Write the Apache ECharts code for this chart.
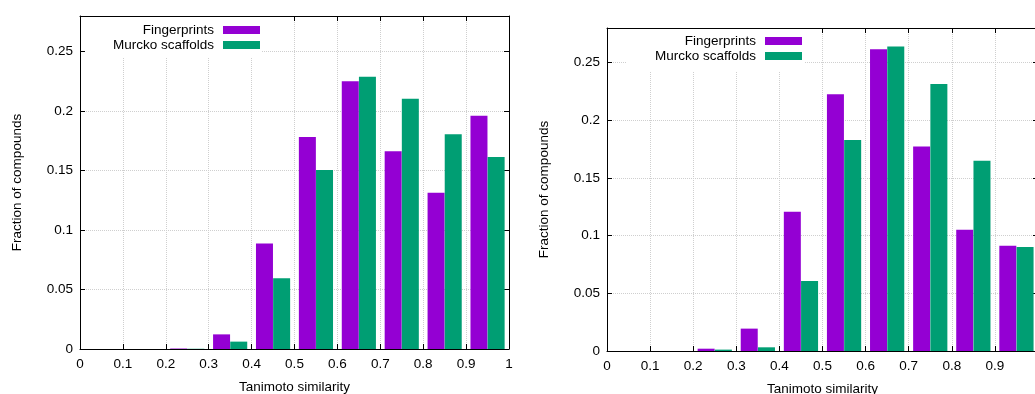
<!DOCTYPE html>
<html>
<head>
<meta charset="utf-8">
<script src="https://cdn.jsdelivr.net/npm/echarts@6/dist/echarts.min.js"></script>
<style>
html,body{margin:0;padding:0;background:#fff;}
#chart{width:1035px;height:394px;}
</style>
</head>
<body>
<div id="chart"></div>
<script>
// Bin starts (Tanimoto similarity bins of width 0.1)
const binStarts = [0.2, 0.3, 0.4, 0.5, 0.6, 0.7, 0.8, 0.9];
// Left panel
const leftFingerprints = [0.0004, 0.0123, 0.0888, 0.1783, 0.2251, 0.1662, 0.1314, 0.1962];
const leftScaffolds    = [0.0002, 0.0062, 0.0594, 0.1505, 0.2290, 0.2105, 0.1805, 0.1614];
// Right panel
const rightFingerprints = [0.0020, 0.0194, 0.1208, 0.2225, 0.2616, 0.1772, 0.1052, 0.0913];
const rightScaffolds    = [0.0012, 0.0032, 0.0607, 0.1829, 0.2639, 0.2315, 0.1650, 0.0902];
const seriesNames = ['Fingerprints', 'Murcko scaffolds'];
const xTicks = [0, 0.1, 0.2, 0.3, 0.4, 0.5, 0.6, 0.7, 0.8, 0.9, 1];
const yTicks = [0, 0.05, 0.1, 0.15, 0.2, 0.25];

const FONT = "'Liberation Sans', Arial, sans-serif";
const FS = 13.5;
const PURPLE = '#9400D3';
const GREEN = '#009E73';
const BORDER = '#000';
const GRIDC = '#cfcfcf';

function toPairs(vals, off) {
  return binStarts.map((b, i) => [+(b + off).toFixed(3), vals[i]]);
}

function xAxes(gi) {
  return [
    {
      type: 'value', gridIndex: gi, min: 0, max: 1, interval: 0.1, position: 'bottom',
      name: 'Tanimoto similarity', nameLocation: 'middle', nameGap: 31,
      nameTextStyle: {fontFamily: FONT, fontSize: FS, color: '#000'},
      axisLine: {show: true, onZero: false, lineStyle: {color: BORDER, width: 1}},
      axisTick: {show: true, inside: true, length: 5, lineStyle: {color: BORDER}},
      axisLabel: {fontFamily: FONT, fontSize: FS, color: '#000', margin: 8,
        formatter: v => String(+v.toFixed(2)), showMaxLabel: gi === 0},
      splitLine: {show: true, lineStyle: {color: GRIDC, type: 'dotted', width: 1}}
    },
    {
      type: 'value', gridIndex: gi, min: 0, max: 1, interval: 0.1, position: 'top',
      axisLine: {show: true, onZero: false, lineStyle: {color: BORDER, width: 1}},
      axisTick: {show: true, inside: true, length: 5, lineStyle: {color: BORDER}},
      axisLabel: {show: false},
      splitLine: {show: false}
    }
  ];
}
function yAxes(gi) {
  return [
    {
      type: 'value', gridIndex: gi, min: 0, max: 0.28, interval: 0.05, position: 'left',
      name: 'Fraction of compounds', nameLocation: 'middle', nameGap: 56, nameRotate: 90,
      nameTextStyle: {fontFamily: FONT, fontSize: FS, color: '#000'},
      axisLine: {show: true, onZero: false, lineStyle: {color: BORDER, width: 1}},
      axisTick: {show: true, inside: true, length: 5, lineStyle: {color: BORDER}},
      axisLabel: {fontFamily: FONT, fontSize: FS, color: '#000', margin: 7,
        showMaxLabel: false,
        formatter: v => yTicks.some(t => Math.abs(t - v) < 1e-9) ? String(+v.toFixed(2)) : ''},
      splitLine: {show: true, lineStyle: {color: GRIDC, type: 'dotted', width: 1}}
    },
    {
      type: 'value', gridIndex: gi, min: 0, max: 0.28, interval: 0.05, position: 'right',
      axisLine: {show: true, onZero: false, lineStyle: {color: BORDER, width: 1}},
      axisTick: {show: true, inside: true, length: 5, lineStyle: {color: BORDER}},
      axisLabel: {show: false},
      splitLine: {show: false}
    }
  ];
}

function bar(name, color, data, gi) {
  return {
    type: 'bar', name: name, xAxisIndex: gi * 2, yAxisIndex: gi * 2,
    data: data, barWidth: 17, barGap: '-100%',
    itemStyle: {color: color}, emphasis: {disabled: true}, animation: false
  };
}

function legend(right, top, padding) {
  return {
    data: seriesNames, orient: 'vertical', align: 'right', right: right, top: top,
    itemWidth: 37, itemHeight: 8, itemGap: 1, icon: 'rect', padding: padding,
    backgroundColor: '#fff', selectedMode: false,
    textStyle: {fontFamily: FONT, fontSize: FS, color: '#000', padding: [0, 4, 0, 0]}
  };
}

const chart = echarts.init(document.getElementById('chart'), null, {renderer: 'canvas'});
chart.setOption({
  animation: false,
  backgroundColor: '#fff',
  grid: [
    {left: 80, right: 526, top: 16, bottom: 45, containLabel: false, outerBoundsMode: 'none'},
    {left: 607, right: -3, top: 28, bottom: 43, containLabel: false, outerBoundsMode: 'none'}
  ],
  xAxis: [...xAxes(0), ...xAxes(1)],
  yAxis: [...yAxes(0), ...yAxes(1)],
  legend: [
    legend(773, 17, [6, 2, 6, 28]),
    legend(230, 29, [5, 3, 9, 28])
  ],
  series: [
    bar(seriesNames[0], PURPLE, toPairs(leftFingerprints, 0.03), 0),
    bar(seriesNames[1], GREEN, toPairs(leftScaffolds, 0.07), 0),
    bar(seriesNames[0], PURPLE, toPairs(rightFingerprints, 0.03), 1),
    bar(seriesNames[1], GREEN, toPairs(rightScaffolds, 0.07), 1)
  ]
});
</script>
</body>
</html>
